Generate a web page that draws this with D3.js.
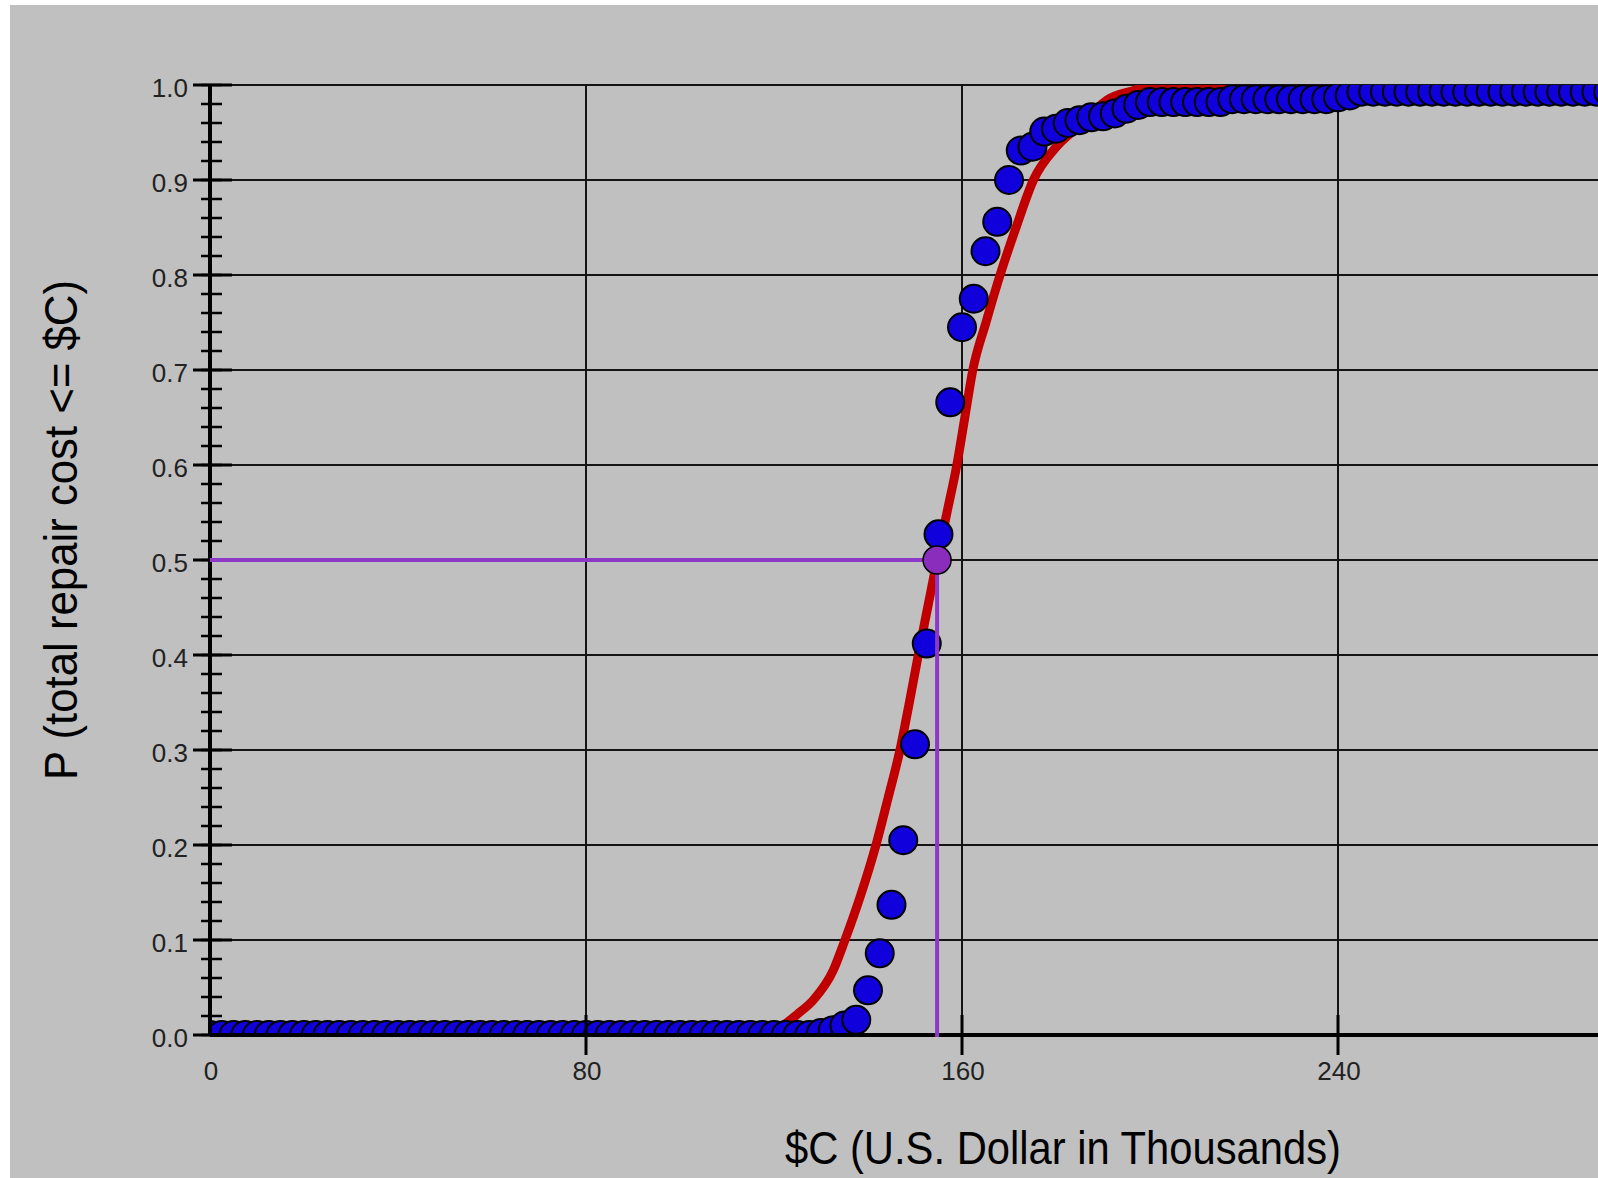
<!DOCTYPE html>
<html>
<head>
<meta charset="utf-8">
<script src="https://cdn.jsdelivr.net/npm/d3@7"></script>
<style>
  body { margin: 0; background: #fff; }
  svg { display: block; }
  .tick-label { font-family: "Liberation Sans", Arial, sans-serif; font-size: 26px; fill: #222; }
  .axis-title { font-family: "Liberation Sans", Arial, sans-serif; font-size: 46px; fill: #000; }
</style>
</head>
<body>
<svg id="chart" width="1598" height="1178"></svg>
<script>
// repair cost grid ($ thousands) used by the simulated points
const costK = [
  0, 2.5, 5, 7.5, 10, 12.5, 15, 17.5, 20, 22.5, 25, 27.5, 30, 32.5, 35, 37.5, 40, 42.5, 45, 47.5,
  50, 52.5, 55, 57.5, 60, 62.5, 65, 67.5, 70, 72.5, 75, 77.5, 80, 82.5, 85, 87.5, 90, 92.5, 95, 97.5,
  100, 102.5, 105, 107.5, 110, 112.5, 115, 117.5, 120, 122.5, 125, 127.5, 130, 132.5, 135, 137.5, 140, 142.5, 145, 147.5,
  150, 152.5, 155, 157.5, 160, 162.5, 165, 167.5, 170, 172.5, 175, 177.5, 180, 182.5, 185, 187.5, 190, 192.5, 195, 197.5,
  200, 202.5, 205, 207.5, 210, 212.5, 215, 217.5, 220, 222.5, 225, 227.5, 230, 232.5, 235, 237.5, 240, 242.5, 245, 247.5,
  250, 252.5, 255, 257.5, 260, 262.5, 265, 267.5, 270, 272.5, 275, 277.5, 280, 282.5, 285, 287.5, 290, 292.5, 295, 297.5,
  300
];

// empirical P(cost <= $C) for each point above
const probEmpirical = [
  0, 0, 0, 0, 0, 0, 0, 0, 0, 0, 0, 0, 0, 0, 0, 0, 0, 0, 0, 0,
  0, 0, 0, 0, 0, 0, 0, 0, 0, 0, 0, 0, 0, 0, 0, 0, 0, 0, 0, 0,
  0, 0, 0, 0, 0, 0, 0, 0, 0, 0, 0, 0, 0.002, 0.005, 0.01, 0.016, 0.047, 0.086, 0.137, 0.205,
  0.306, 0.412, 0.527, 0.666, 0.745, 0.775, 0.825, 0.856, 0.9, 0.931, 0.935, 0.951, 0.954, 0.96, 0.963, 0.966, 0.967, 0.97, 0.975, 0.979,
  0.982, 0.982, 0.982, 0.982, 0.982, 0.982, 0.982, 0.985, 0.985, 0.985, 0.985, 0.985, 0.985, 0.985, 0.985, 0.985, 0.987, 0.989, 0.993, 0.993,
  0.993, 0.993, 0.993, 0.993, 0.993, 0.993, 0.993, 0.993, 0.993, 0.993, 0.993, 0.993, 0.993, 0.993, 0.993, 0.993, 0.993, 0.993, 0.993, 0.993,
  0.993
];

// fitted distribution curve
const fitCost = [0, 118, 121, 125, 128.4, 132.6, 135.1, 138.5, 141.7, 144.3, 146.8, 148.8, 150.7, 152.7, 154.7,
  156.8, 158.9, 160.6, 162.3, 165.1, 168.1, 171.5, 175.2, 180.1, 184.4, 187.5, 190.8, 196.4, 200.7, 320];
const fitProb = [0, 0, 0.007, 0.022, 0.037, 0.068, 0.1, 0.148, 0.2, 0.25, 0.3, 0.35, 0.4, 0.45, 0.5,
  0.55, 0.6, 0.65, 0.7, 0.75, 0.8, 0.85, 0.9, 0.935, 0.955, 0.97, 0.984, 0.994, 1.0, 1.0];

// median marker
const medianCost = 154.7;
const medianProb = 0.5;

const xTickValues = [0, 80, 160, 240];

const svg = d3.select('#chart');
const W = 1598, H = 1178;

svg.append('rect').attr('x', 10).attr('y', 5).attr('width', W - 10).attr('height', H - 5).attr('fill', '#c0c0c0');

const x = d3.scaleLinear().domain([0, 320]).range([210, 1714]);
const y = d3.scaleLinear().domain([0, 1]).range([1035, 85]);

const plotLeft = x(0), plotRight = W, plotTop = y(1), plotBottom = y(0);

// grid
const grid = svg.append('g');
grid.selectAll('.hgrid')
  .data(y.ticks(10).filter(d => d > 0))
  .enter().append('line')
  .attr('x1', plotLeft).attr('x2', plotRight)
  .attr('y1', d => y(d)).attr('y2', d => y(d))
  .attr('stroke', '#141414').attr('stroke-width', 2);
grid.selectAll('.vgrid')
  .data(xTickValues.filter(d => d > 0))
  .enter().append('line')
  .attr('x1', d => x(d)).attr('x2', d => x(d))
  .attr('y1', plotTop).attr('y2', plotBottom)
  .attr('stroke', '#141414').attr('stroke-width', 2);

svg.append('clipPath').attr('id', 'plot-clip')
  .append('rect').attr('x', plotLeft).attr('y', plotTop)
  .attr('width', plotRight - plotLeft).attr('height', plotBottom - plotTop);

const plot = svg.append('g').attr('clip-path', 'url(#plot-clip)');

const fitData = fitCost.map((c, i) => ({ c: c, p: fitProb[i] }));
plot.append('path')
  .datum(fitData)
  .attr('fill', 'none')
  .attr('stroke', '#c00000')
  .attr('stroke-width', 9)
  .attr('stroke-linejoin', 'round')
  .attr('d', d3.line().x(d => x(d.c)).y(d => y(d.p)).curve(d3.curveMonotoneX));

const pts = costK.map((c, i) => ({ c: c, p: probEmpirical[i] }));
plot.selectAll('.dot')
  .data(pts)
  .enter().append('circle')
  .attr('cx', d => x(d.c))
  .attr('cy', d => y(d.p))
  .attr('r', 14)
  .attr('fill', '#1000dc')
  .attr('stroke', '#000')
  .attr('stroke-width', 2);

// y axis
const yAxis = svg.append('g');
yAxis.append('line')
  .attr('x1', plotLeft).attr('x2', plotLeft).attr('y1', plotTop).attr('y2', plotBottom)
  .attr('stroke', '#000').attr('stroke-width', 4);
yAxis.selectAll('.minor')
  .data(y.ticks(40))
  .enter().append('line')
  .attr('x1', plotLeft - 9).attr('x2', plotLeft + 12)
  .attr('y1', d => y(d)).attr('y2', d => y(d))
  .attr('stroke', '#000').attr('stroke-width', 2.5);
yAxis.selectAll('.major')
  .data(y.ticks(10))
  .enter().append('line')
  .attr('x1', plotLeft - 17).attr('x2', plotLeft + 22)
  .attr('y1', d => y(d)).attr('y2', d => y(d))
  .attr('stroke', '#000').attr('stroke-width', 3);
yAxis.selectAll('.ylab')
  .data(y.ticks(10))
  .enter().append('text')
  .attr('class', 'tick-label')
  .attr('x', plotLeft - 22)
  .attr('y', d => y(d) + 12)
  .attr('text-anchor', 'end')
  .text(d3.format('.1f'));

// x axis
const xAxis = svg.append('g');
xAxis.append('line')
  .attr('x1', plotLeft).attr('x2', plotRight).attr('y1', plotBottom).attr('y2', plotBottom)
  .attr('stroke', '#000').attr('stroke-width', 4);
xAxis.selectAll('.xtick')
  .data(xTickValues.filter(d => d > 0))
  .enter().append('line')
  .attr('x1', d => x(d)).attr('x2', d => x(d))
  .attr('y1', plotBottom - 20).attr('y2', plotBottom + 20)
  .attr('stroke', '#000').attr('stroke-width', 3);
xAxis.selectAll('.xlab')
  .data(xTickValues)
  .enter().append('text')
  .attr('class', 'tick-label')
  .attr('x', d => x(d) + 1)
  .attr('y', plotBottom + 45)
  .attr('text-anchor', 'middle')
  .text(d => d);

// median guide lines
svg.append('line')
  .attr('x1', plotLeft).attr('x2', x(medianCost))
  .attr('y1', y(medianProb)).attr('y2', y(medianProb))
  .attr('stroke', '#8e38c8').attr('stroke-width', 4);
svg.append('line')
  .attr('x1', x(medianCost)).attr('x2', x(medianCost))
  .attr('y1', y(medianProb)).attr('y2', plotBottom + 2)
  .attr('stroke', '#8e38c8').attr('stroke-width', 4);
svg.append('circle')
  .attr('cx', x(medianCost)).attr('cy', y(medianProb))
  .attr('r', 14)
  .attr('fill', '#8a2cbc')
  .attr('stroke', '#000').attr('stroke-width', 1.5);

// titles
svg.append('text')
  .attr('class', 'axis-title')
  .attr('x', 1063).attr('y', 1164)
  .attr('text-anchor', 'middle')
  .attr('textLength', 556).attr('lengthAdjust', 'spacingAndGlyphs')
  .text('$C (U.S. Dollar in Thousands)');

svg.append('text')
  .attr('class', 'axis-title')
  .attr('transform', 'translate(77,530) rotate(-90)')
  .attr('text-anchor', 'middle')
  .attr('textLength', 500).attr('lengthAdjust', 'spacingAndGlyphs')
  .text('P (total repair cost <= $C)');
</script>
</body>
</html>
